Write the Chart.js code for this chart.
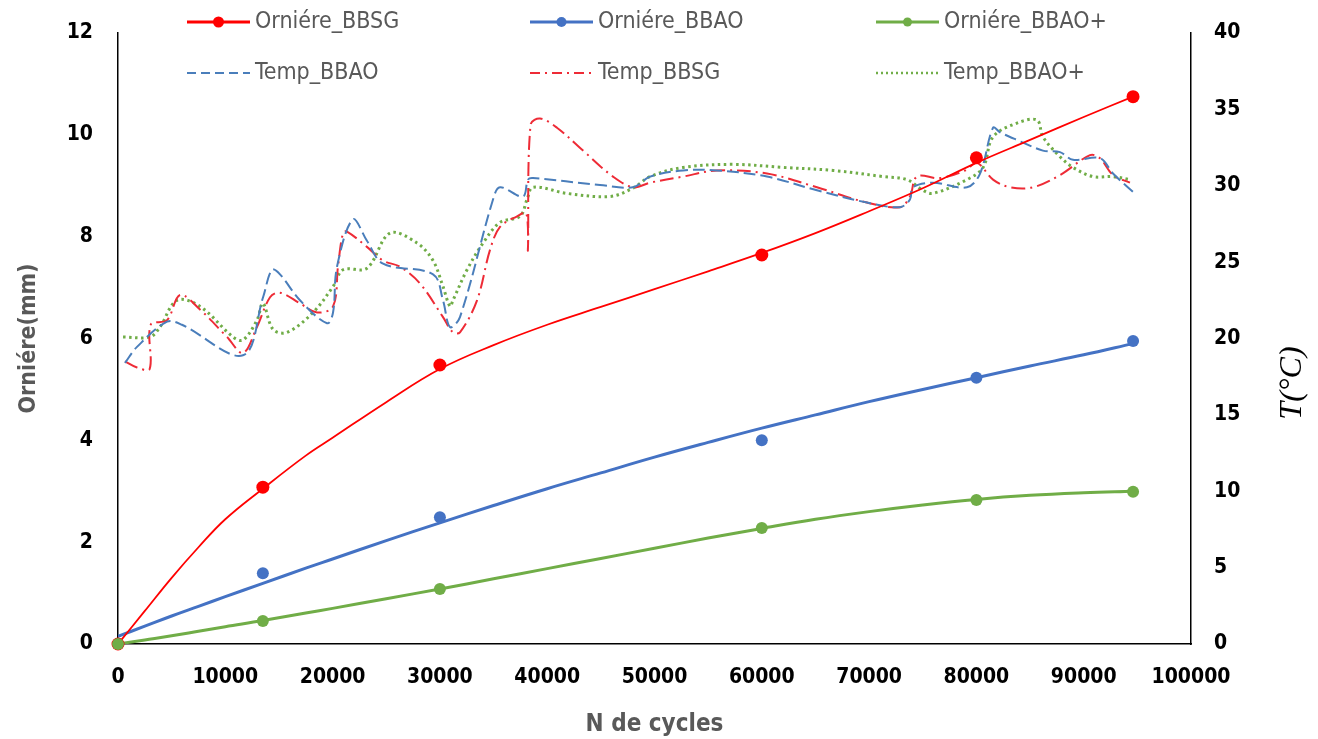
<!DOCTYPE html>
<html><head><meta charset="utf-8">
<script src="https://cdn.jsdelivr.net/npm/chart.js@4.4.1/dist/chart.umd.min.js"></script>
<style>html,body{margin:0;padding:0;background:#fff}#wrap{width:1318px;height:739px}</style>
</head><body><div id="wrap"><canvas id="c" width="1318" height="739"></canvas></div>
<script>
// ---- measured points (ruts, mm) ----
const markerCycles = [0, 13500, 30000, 60000, 80000, 94600];
const ornBBSG = [0, 3.08, 5.48, 7.64, 9.55, 10.75];
const ornBBAO = [0, 1.39, 2.49, 4.0, 5.23, 5.95];
const ornBBAOplus = [0, 0.45, 1.08, 2.28, 2.83, 2.99];

// ---- trend lines ----
const trendCycles = [0, 2500, 5000, 7500, 10000, 13500, 17500, 20000, 25000, 30000, 35000, 40000, 45000, 50000, 55000, 60000, 65000, 70000, 75000, 80000, 85000, 90000, 94600];
const trendBBSG = [0, 0.65, 1.3, 1.9, 2.45, 3.05, 3.7, 4.05, 4.75, 5.4, 5.87, 6.27, 6.62, 6.97, 7.32, 7.68, 8.07, 8.5, 8.95, 9.45, 9.9, 10.35, 10.75];
const trendBBAO = [0.15, 0.35, 0.55, 0.74, 0.93, 1.19, 1.49, 1.67, 2.03, 2.38, 2.72, 3.05, 3.36, 3.67, 3.96, 4.24, 4.5, 4.76, 5.0, 5.23, 5.46, 5.68, 5.9];
const trendBBAOplus = [0, 0.08, 0.16, 0.25, 0.34, 0.46, 0.61, 0.7, 0.89, 1.08, 1.28, 1.48, 1.68, 1.88, 2.08, 2.27, 2.45, 2.6, 2.73, 2.84, 2.92, 2.97, 3.0];

// ---- temperatures (°C) ----
const tempBBAOCycles = [650,1770,4570,5960,11650,13520,14350,15100,16960,19480,20040,20410,21900,23200,24700,29360,30290,30940,31870,34950,35600,37740,38210,38680,44920,48000,49580,52660,55820,60480,65140,69800,72880,73810,74090,75950,79120,80340,81550,82200,83780,86200,87790,89000,91520,92730,94600];
const tempBBAO = [18.4,19.45,21.1,20.9,18.9,22.7,24.5,24.2,22.5,21.0,21.7,24.7,27.8,26.4,24.9,24.2,22.5,20.75,21.4,29.1,29.9,29.3,30.4,30.5,30.05,29.9,30.6,31.0,31.0,30.6,29.7,28.9,28.6,29.1,29.9,30.2,29.9,30.8,33.8,33.5,33.0,32.3,32.2,31.7,31.8,30.8,29.6];

const tempBBSGCycles = [650,1770,2950,3050,4570,5780,7640,10160,11650,12950,14170,15100,16960,18550,20040,20500,20970,21340,23200,24700,26280,28150,30290,31220,31870,33460,34670,35600,37190,38050,38200,38450,39330,40910,43340,46130,48000,49580,52660,55820,60480,65140,69800,72880,73810,74460,76600,78940,80050,81550,83130,85270,87790,90590,91520,92730,94310];
const tempBBSG = [18.5,18.1,18.0,20.9,21.2,22.85,21.9,20.1,19.05,20.75,22.7,23.0,22.3,21.7,22.1,24.7,26.9,27.0,26.0,25.1,24.7,23.6,21.4,20.4,20.4,22.5,25.8,27.3,28.0,28.2,25.8,34.0,34.4,33.8,32.3,30.6,29.9,30.2,30.6,31.0,30.8,29.9,28.9,28.6,29.3,30.6,30.5,31.0,31.5,30.4,29.9,29.9,30.7,32.0,31.8,30.7,30.2];

const tempBBAOplusCycles = [470,2980,3910,5500,7640,10720,11650,12950,13510,14450,15750,18170,20040,20970,23200,25350,27870,29360,30290,30940,31220,32530,34020,35600,37470,38120,38680,41840,45850,48000,49580,52660,57320,61980,66640,71300,73530,75020,75950,79120,80620,81550,83780,85650,86200,87790,89000,90870,92730,94310];
const tempBBAOplus = [20.1,20.1,20.75,22.5,22.1,20.1,19.9,21.2,22.3,20.6,20.4,21.7,23.4,24.5,24.6,26.9,26.25,25.1,23.4,22.1,22.5,24.5,26.25,27.6,28.0,29.1,29.9,29.5,29.3,29.85,30.6,31.2,31.4,31.2,31.0,30.6,30.4,29.7,29.5,30.4,31.2,33.2,34.1,34.3,33.2,31.9,31.2,30.6,30.6,30.4];

// ---- axis ticks ----
const xTicks = [0, 10000, 20000, 30000, 40000, 50000, 60000, 70000, 80000, 90000, 100000];
const yLeftTicks = [0, 2, 4, 6, 8, 10, 12];
const yRightTicks = [0, 5, 10, 15, 20, 25, 30, 35, 40];

const pts = (xs, ys) => xs.map((x, i) => ({ x: x, y: ys[i] }));

const RED = '#FF0000', BLUE = '#4472C4', GREEN = '#70AD47';
const FAMILY = '"Liberation Sans Narrow", "DejaVu Sans Condensed", sans-serif';
const TICK_FONT = { family: FAMILY, size: 21, weight: 'bold' };
const TITLE_FONT_Y = { family: FAMILY, size: 23, weight: 'bold' };
const TITLE_FONT_X = { family: FAMILY, size: 24, weight: 'bold' };

const legendPlugin = {
  id: 'customLegend',
  afterDraw(chart) {
    const ctx = chart.ctx;
    const rows = [22, 73], cols = [187, 530, 876], len = 63;
    ctx.save();
    chart.data.datasets.forEach(d => {
      if (!d.legendSlot) return;
      const y = rows[d.legendSlot[0]], x0 = cols[d.legendSlot[1]];
      ctx.save();
      ctx.strokeStyle = d.borderColor || d.backgroundColor;
      ctx.lineWidth = d.legendLineWidth;
      ctx.setLineDash(d.legendDash || []);
      ctx.beginPath(); ctx.moveTo(x0, y); ctx.lineTo(x0 + len, y); ctx.stroke();
      ctx.setLineDash([]);
      if (d.legendDot) {
        ctx.fillStyle = d.backgroundColor;
        ctx.beginPath(); ctx.arc(x0 + len / 2, y, d.legendDot, 0, Math.PI * 2); ctx.fill();
      }
      ctx.restore();
      ctx.fillStyle = '#595959';
      ctx.font = '23px ' + FAMILY;
      ctx.textBaseline = 'middle';
      ctx.textAlign = 'left';
      ctx.fillText(d.label, x0 + len + 5, y);
    });
    ctx.restore();
  }
};

const rightTitlePlugin = {
  id: 'rightTitle',
  afterDraw(chart) {
    const ctx = chart.ctx;
    ctx.save();
    ctx.translate(1293, 383);
    ctx.rotate(-Math.PI / 2);
    ctx.fillStyle = '#000';
    ctx.font = 'italic 32px "Liberation Serif", "DejaVu Serif", serif';
    ctx.textAlign = 'center';
    ctx.textBaseline = 'middle';
    ctx.fillText('T(°C)', 0, 0);
    ctx.restore();
  }
};

const fixVertical = (w) => (s) => { s.width = w; s.paddingTop = 0; s.paddingBottom = 0; };

new Chart(document.getElementById('c'), {
  type: 'scatter',
  data: {
    datasets: [
      // markers
      { label: 'Orniére_BBSG', data: pts(markerCycles, ornBBSG), yAxisID: 'y', showLine: false, clip: false,
        backgroundColor: RED, borderColor: RED, pointRadius: 6.5, pointBorderWidth: 0, order: 1,
        legendSlot: [0, 0], legendLineWidth: 3, legendDot: 5.5 },
      { label: 'Orniére_BBAO', data: pts(markerCycles, ornBBAO), yAxisID: 'y', showLine: false, clip: false,
        backgroundColor: BLUE, borderColor: BLUE, pointRadius: 6, pointBorderWidth: 0, order: 1,
        legendSlot: [0, 1], legendLineWidth: 3, legendDot: 5 },
      { label: 'Orniére_BBAO+', data: pts(markerCycles, ornBBAOplus), yAxisID: 'y', showLine: false, clip: false,
        backgroundColor: GREEN, borderColor: GREEN, pointRadius: 6, pointBorderWidth: 0, order: 0,
        legendSlot: [0, 2], legendLineWidth: 3, legendDot: 4.5 },
      // trend lines
      { label: 'trend BBSG', data: pts(trendCycles, trendBBSG), yAxisID: 'y', showLine: true,
        borderColor: RED, borderWidth: 1.8, pointRadius: 0, tension: 0.4, order: 2 },
      { label: 'trend BBAO', data: pts(trendCycles, trendBBAO), yAxisID: 'y', showLine: true,
        borderColor: BLUE, borderWidth: 3, pointRadius: 0, tension: 0.4, order: 2 },
      { label: 'trend BBAO+', data: pts(trendCycles, trendBBAOplus), yAxisID: 'y', showLine: true,
        borderColor: GREEN, borderWidth: 3, pointRadius: 0, tension: 0.4, order: 2 },
      // temperatures
      { label: 'Temp_BBAO', data: pts(tempBBAOCycles, tempBBAO), yAxisID: 'y2', showLine: true,
        borderColor: '#4A7EBB', backgroundColor: '#4A7EBB', borderWidth: 2, borderDash: [12, 5], pointRadius: 0, tension: 0.35, order: 3,
        legendSlot: [1, 0], legendLineWidth: 2, legendDash: [9, 5] },
      { label: 'Temp_BBSG', data: pts(tempBBSGCycles, tempBBSG), yAxisID: 'y2', showLine: true,
        borderColor: '#EE2B36', backgroundColor: '#EE2B36', borderWidth: 2, borderDash: [14, 5, 2, 5], pointRadius: 0, tension: 0.35, order: 3,
        legendSlot: [1, 1], legendLineWidth: 2, legendDash: [10, 5, 2, 5] },
      { label: 'Temp_BBAO+', data: pts(tempBBAOplusCycles, tempBBAOplus), yAxisID: 'y2', showLine: true,
        borderColor: '#70AD47', backgroundColor: '#70AD47', borderWidth: 3, borderDash: [2.5, 3.5], pointRadius: 0, tension: 0.35, order: 3,
        legendSlot: [1, 2], legendLineWidth: 2.5, legendDash: [2, 3] }
    ]
  },
  options: {
    responsive: false,
    animation: false,
    layout: { padding: { top: 33, left: 0, right: 0, bottom: 0 } },
    plugins: { legend: { display: false }, tooltip: { enabled: false } },
    scales: {
      x: {
        type: 'linear', position: 'bottom', min: 0, max: 100000,
        afterBuildTicks: s => { s.ticks = xTicks.map(v => ({ value: v })); },
        afterFit: s => { s.height = 95; },
        ticks: { autoSkip: false, maxRotation: 0, padding: 21, color: '#000', font: TICK_FONT, callback: v => String(v) },
        grid: { display: false, drawTicks: false },
        border: { display: true, color: '#000', width: 1.5 },
        title: { display: true, text: 'N de cycles', color: '#595959', font: TITLE_FONT_X, padding: { top: 1, bottom: 0 } }
      },
      y: {
        type: 'linear', position: 'left', min: 0, max: 12,
        afterBuildTicks: s => { s.ticks = yLeftTicks.map(v => ({ value: v })); },
        afterFit: fixVertical(118),
        ticks: { padding: 25, color: '#000', font: TICK_FONT },
        grid: { display: false, drawTicks: false },
        border: { display: true, color: '#000', width: 1.5 },
        title: { display: true, text: 'Orniére(mm)', color: '#595959', font: TITLE_FONT_Y, padding: { top: 15, bottom: 0 } }
      },
      y2: {
        type: 'linear', position: 'right', min: 0, max: 40,
        afterBuildTicks: s => { s.ticks = yRightTicks.map(v => ({ value: v })); },
        afterFit: fixVertical(127),
        ticks: { padding: 23, color: '#000', font: TICK_FONT },
        grid: { display: false, drawTicks: false },
        border: { display: true, color: '#000', width: 1.5 }
      }
    }
  },
  plugins: [legendPlugin, rightTitlePlugin]
});
</script>
</body></html>
